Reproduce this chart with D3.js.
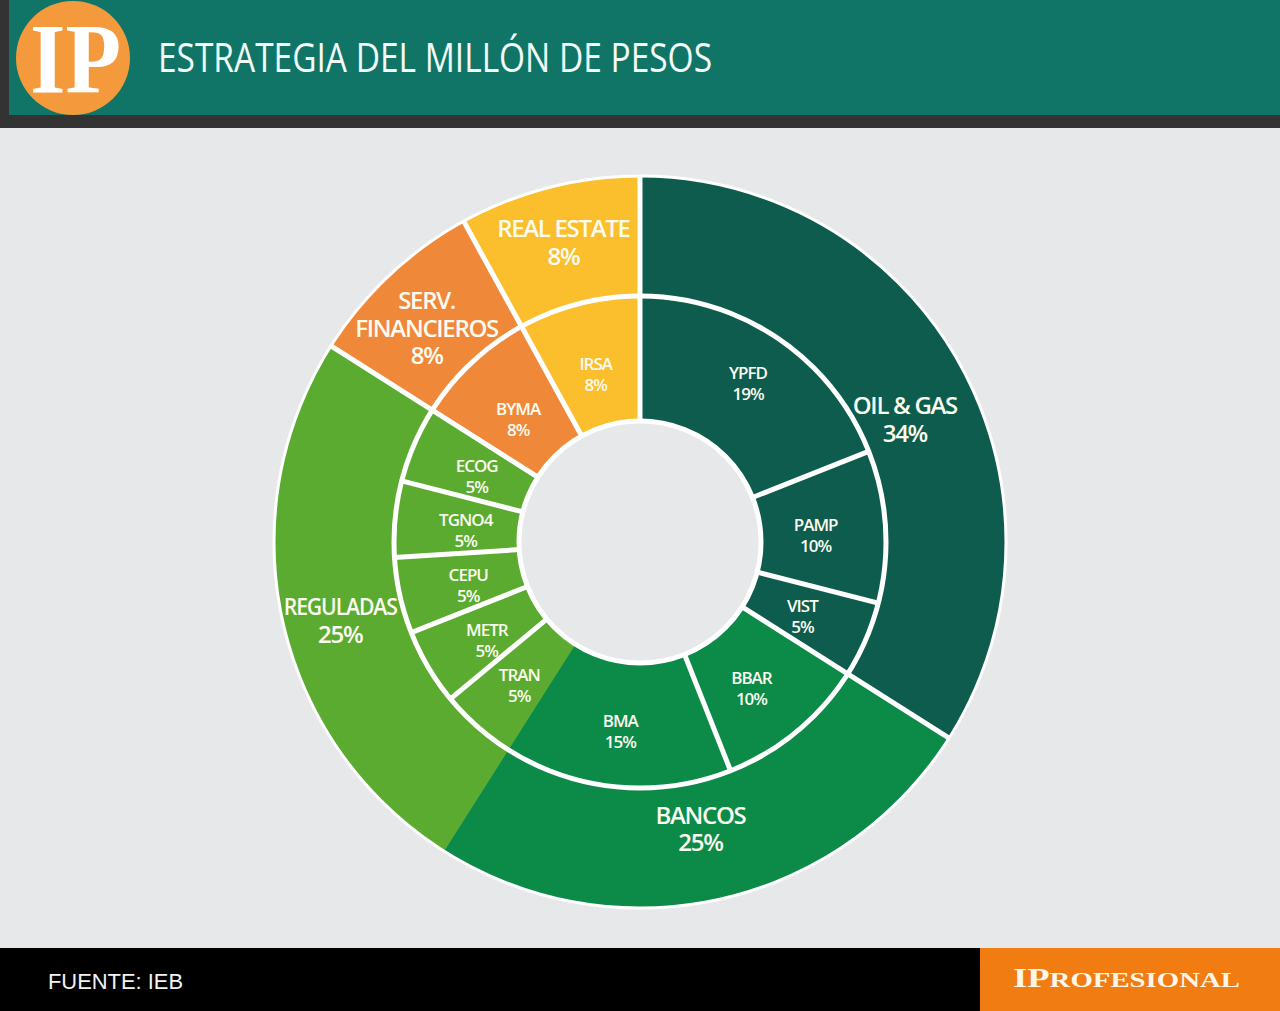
<!DOCTYPE html>
<html><head><meta charset="utf-8">
<script src="https://cdn.jsdelivr.net/npm/d3@7"></script>
<style>html,body{margin:0;padding:0;background:#e6e8e9;}svg{display:block;}</style>
</head><body>
<svg id="c" width="1280" height="1011"></svg>
<script>
// ---- data ----
const sectors = ["OIL & GAS", "BANCOS", "REGULADAS", "SERV. FINANCIEROS", "REAL ESTATE"];
const sectorValues = [34, 25, 25, 8, 8];
const sectorLabelLines = [["OIL & GAS"], ["BANCOS"], ["REGULADAS"], ["SERV.", "FINANCIEROS"], ["REAL ESTATE"]];
const tickers = ["YPFD", "PAMP", "VIST", "BBAR", "BMA", "TRAN", "METR", "CEPU", "TGNO4", "ECOG", "BYMA", "IRSA"];
const tickerValues = [19, 10, 5, 10, 15, 5, 5, 5, 5, 5, 8, 8];
const tickerSector = ["OIL & GAS", "OIL & GAS", "OIL & GAS", "BANCOS", "BANCOS", "REGULADAS", "REGULADAS", "REGULADAS", "REGULADAS", "REGULADAS", "SERV. FINANCIEROS", "REAL ESTATE"];
const noSeparatorAfter = ["BANCOS", "BMA"];

// ---- layout (label nudges, px) ----
const outerNudge = {
  "OIL & GAS": [2, 22], "BANCOS": [-5, -6], "REGULADAS": [-7, 13],
  "SERV. FINANCIEROS": [-8, 5], "REAL ESTATE": [-2, -9]
};
const innerNudge = {
  "YPFD": [8, -16], "PAMP": [-2, 0], "VIST": [-1, -1], "BBAR": [-2, 4], "BMA": [-3, 7],
  "TRAN": [-3, 5], "METR": [0, 3], "CEPU": [2, 0], "TGNO4": [3, 0], "ECOG": [0, 0],
  "BYMA": [0, 2], "IRSA": [0, 0]
};
const lineWidthOverride = { "REGULADAS": 113 };

const sectorColor = d3.scaleOrdinal()
  .domain(sectors)
  .range(["#0e5c4d", "#0b8a48", "#5aab2f", "#f0883a", "#fbbe2c"]);

const svg = d3.select("#c");
const W = 1280, H = 1011;

// background
svg.append("rect").attr("width", W).attr("height", H).attr("fill", "#e6e8e9");

// header
svg.append("rect").attr("x", 0).attr("y", 0).attr("width", W).attr("height", 128).attr("fill", "#333333");
svg.append("rect").attr("x", 9).attr("y", 0).attr("width", W - 9).attr("height", 115).attr("fill", "#107566");
svg.append("circle").attr("cx", 73).attr("cy", 58).attr("r", 57).attr("fill", "#f59a3c");
svg.append("text").attr("x", 30).attr("y", 92)
  .attr("font-family", "Liberation Serif, DejaVu Serif, serif").attr("font-weight", "bold")
  .attr("font-size", 100).attr("fill", "#ffffff")
  .attr("textLength", 91).attr("lengthAdjust", "spacingAndGlyphs").text("IP");
svg.append("text").attr("x", 158).attr("y", 72)
  .attr("font-family", "Open Sans, sans-serif").attr("font-weight", 400)
  .attr("font-size", 41).attr("fill", "#f2fbf8")
  .attr("textLength", 554).attr("lengthAdjust", "spacingAndGlyphs")
  .text("ESTRATEGIA DEL MILLÓN DE PESOS");

// footer
svg.append("rect").attr("x", 0).attr("y", 948).attr("width", W).attr("height", H - 948).attr("fill", "#000000");
svg.append("rect").attr("x", 980).attr("y", 948).attr("width", W - 980).attr("height", H - 948).attr("fill", "#f07c12");
svg.append("text").attr("x", 48).attr("y", 989)
  .attr("font-family", "Liberation Sans, Arial, sans-serif").attr("font-size", 22)
  .attr("fill", "#f2f2f2").attr("textLength", 135).attr("lengthAdjust", "spacingAndGlyphs")
  .text("FUENTE: IEB");
const brand = svg.append("text").attr("x", 1013).attr("y", 987)
  .attr("font-family", "Liberation Serif, DejaVu Serif, serif").attr("font-weight", "bold")
  .attr("fill", "#fff6e8").attr("textLength", 227).attr("lengthAdjust", "spacingAndGlyphs");
brand.append("tspan").attr("font-size", 28).text("IP");
brand.append("tspan").attr("font-size", 22).text("ROFESIONAL");

// ---- donut ----
const cx = 640, cy = 542;
const R = 366, rMid = 246, rHole = 121;
const g = svg.append("g").attr("transform", `translate(${cx},${cy})`);

const pie = d3.pie().sort(null).value(d => d.v);
const outerData = pie(sectors.map((s, i) => ({ name: s, v: sectorValues[i], lines: sectorLabelLines[i] })));
const innerData = pie(tickers.map((t, i) => ({ name: t, v: tickerValues[i], sector: tickerSector[i] })));

const outerArc = d3.arc().innerRadius(rMid).outerRadius(R);
const innerArc = d3.arc().innerRadius(rHole).outerRadius(rMid);

g.selectAll("path.outer").data(outerData).join("path").attr("class", "outer")
  .attr("d", outerArc).attr("fill", d => sectorColor(d.data.name))
  .attr("stroke", d => sectorColor(d.data.name)).attr("stroke-width", 0.6);
g.selectAll("path.inner").data(innerData).join("path").attr("class", "inner")
  .attr("d", innerArc).attr("fill", d => sectorColor(d.data.sector))
  .attr("stroke", d => sectorColor(d.data.sector)).attr("stroke-width", 0.6);

// hole
g.append("circle").attr("r", rHole).attr("fill", "#e6e8e9").attr("stroke", "#ffffff").attr("stroke-width", 5);
// ring separators
g.append("circle").attr("r", rMid).attr("fill", "none").attr("stroke", "#ffffff").attr("stroke-width", 5);
g.append("circle").attr("r", R).attr("fill", "none").attr("stroke", "#ffffff").attr("stroke-width", 3);

function radial(a, r0, r1) {
  return [Math.sin(a) * r0, -Math.cos(a) * r0, Math.sin(a) * r1, -Math.cos(a) * r1];
}
const sepOuter = outerData.filter(d => !noSeparatorAfter.includes(d.data.name));
g.selectAll("line.so").data(sepOuter).join("line").attr("class", "so")
  .each(function (d) {
    const p = radial(d.endAngle, rMid, R + 1);
    d3.select(this).attr("x1", p[0]).attr("y1", p[1]).attr("x2", p[2]).attr("y2", p[3]);
  })
  .attr("stroke", "#ffffff").attr("stroke-width", 5);
const sepInner = innerData.filter(d => !noSeparatorAfter.includes(d.data.name));
g.selectAll("line.si").data(sepInner).join("line").attr("class", "si")
  .each(function (d) {
    const p = radial(d.endAngle, rHole, rMid);
    d3.select(this).attr("x1", p[0]).attr("y1", p[1]).attr("x2", p[2]).attr("y2", p[3]);
  })
  .attr("stroke", "#ffffff").attr("stroke-width", 5);

// labels
const outerLabelArc = d3.arc().innerRadius(300).outerRadius(300);
const innerLabelArc = d3.arc().innerRadius(178).outerRadius(178);
const font = "Open Sans, Noto Sans, sans-serif";

g.selectAll("text.ol").data(outerData).join("text").attr("class", "ol")
  .attr("transform", d => {
    const c = outerLabelArc.centroid(d), n = outerNudge[d.data.name] || [0, 0];
    return `translate(${c[0] + n[0]},${c[1] + n[1]})`;
  })
  .attr("text-anchor", "middle").attr("font-family", font).attr("font-weight", 600)
  .attr("font-size", 24).attr("letter-spacing", -1.3).attr("fill", "#fbfbf0")
  .each(function (d) {
    const lines = d.data.lines.concat([d.data.v + "%"]);
    const t = d3.select(this);
    const lh = 27.5;
    const start = -(lines.length - 1) * lh / 2 + 8.5;
    lines.forEach((l, i) => {
      const ts = t.append("tspan").attr("x", 0).attr("y", start + i * lh).text(l);
      if (lineWidthOverride[l]) ts.attr("textLength", lineWidthOverride[l]).attr("lengthAdjust", "spacingAndGlyphs");
    });
  });

g.selectAll("text.il").data(innerData).join("text").attr("class", "il")
  .attr("transform", d => {
    const c = innerLabelArc.centroid(d), n = innerNudge[d.data.name] || [0, 0];
    return `translate(${c[0] + n[0]},${c[1] + 5 + n[1]})`;
  })
  .attr("text-anchor", "middle").attr("font-family", font).attr("font-weight", 600)
  .attr("font-size", 17).attr("letter-spacing", -1).attr("fill", "#fbfbf0")
  .each(function (d) {
    const t = d3.select(this);
    t.append("tspan").attr("x", 0).attr("y", -4.5).text(d.data.name);
    t.append("tspan").attr("x", 0).attr("y", 16.5).text(d.data.v + "%");
  });
</script>
</body></html>
